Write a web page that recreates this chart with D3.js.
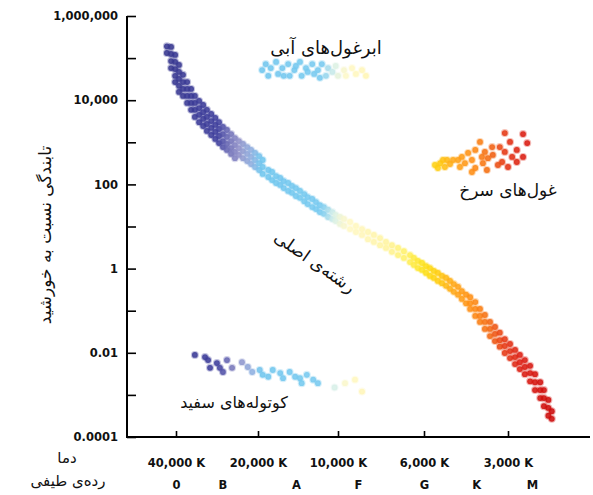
<!DOCTYPE html>
<html>
<head>
<meta charset="utf-8">
<script src="https://cdn.jsdelivr.net/npm/d3@7"></script>
<style>
  body { margin: 0; background: #fff; }
  .num { font-family: "DejaVu Sans", sans-serif; font-weight: bold; font-size: 11.5px; fill: #111; }
  .fa { font-family: "DejaVu Sans", sans-serif; fill: #111; }
</style>
</head>
<body>
<div id="chart"></div>
<script>
// Luminosity axis (relative to the Sun)
const lumTicks = [1e6, 1e4, 100, 1, 0.01, 0.0001];
const lumTickLabels = ["1,000,000", "10,000", "100", "1", "0.01", "0.0001"];
const lumMinorTicks = [1e5, 1e3, 10, 0.1, 0.001];

// Temperature axis
const tempTicks = [40000, 20000, 10000, 6000, 3000];
const tempTickLabels = ["40,000 K", "20,000 K", "10,000 K", "6,000 K", "3,000 K"];

// Spectral classes
const spectralClasses = ["0", "B", "A", "F", "G", "K", "M"];
const spectralTemps = [40000, 27000, 14400, 8880, 6000, 3900, 2460];

// Stars: [temperature K, luminosity]
const mainSequence = [
  [43200,1.9e5],[43200,1.32e5],
  [41700,1.84e5],[41700,1.25e5],[41700,8.5e4],[41700,5.8e4],
  [40300,1.19e5],[40300,8.1e4],[40300,5.5e4],[40300,3.8e4],[40300,2.7e4],
  [39000,6.9e4],[39000,4.7e4],[39000,3.2e4],[39000,2.2e4],[39000,1.57e4],
  [37700,4.0e4],[37700,2.7e4],[37700,1.85e4],[37700,1.26e4],
  [36400,2.7e4],[36400,1.85e4],[36400,1.26e4],[36400,8.6e3],
  [35200,1.85e4],[35200,1.26e4],[35200,8.6e3],[35200,5.9e3],
  [34100,1.26e4],[34100,8.6e3],[34100,5.9e3],[34100,4.0e3],
  [32900,9.6e3],[32900,6.5e3],[32900,4.5e3],[32900,3.0e3],
  [31800,7.7e3],[31800,5.2e3],[31800,3.6e3],[31800,2.44e3],
  [30800,5.9e3],[30800,4.0e3],[30800,2.72e3],[30800,1.86e3],
  [29700,4.7e3],[29700,3.2e3],[29700,2.19e3],[29700,1.49e3],
  [28700,3.8e3],[28700,2.58e3],[28700,1.76e3],[28700,1.20e3],
  [27800,3.0e3],[27800,2.07e3],[27800,1.41e3],[27800,960],
  [26900,2.31e3],[26900,1.57e3],[26900,1.07e3],[26900,770],
  [26000,1.96e3],[26000,1.34e3],[26000,910],[26000,660],
  [25100,1.57e3],[25100,1.07e3],[25100,730],[25100,530],
  [24300,1.26e3],[24300,860],[24300,590],[24300,420],
  [23500,1.07e3],[23500,730],[23500,500],
  [22700,910],[22700,620],[22700,420],
  [21900,770],[21900,530],[21900,360],
  [21200,660],[21200,450],[21200,305],
  [20500,560],[20500,380],[20500,259],
  [19800,470],[19800,320],[19800,220],
  [19200,380],[19200,259],[19200,177],
  [18300,220],[18300,150],
  [17700,197],[17700,127],
  [17100,158],[17100,108],
  [16500,142],[16500,97],
  [16000,120],[16000,82],
  [15400,108],[15400,70],
  [14900,92],[14900,63],
  [14400,82],[14400,53],
  [13900,70],[13900,48],
  [13400,59],[13400,40],
  [13000,50],[13000,34],
  [12500,45],[12500,29],
  [12100,38],[12100,26],
  [11700,32],[11700,22],
  [11300,29],[11300,20],
  [10900,25],[10900,16.8],
  [10500,22],[10500,15.1],
  [10200,18.8],[10200,13.5],
  [9880,16.8],[9880,11.5],
  [9650,15.1],[9650,10.3],
  [9310,12.8],[9310,8.7],
  [8990,10.3],[8990,7.4],
  [8670,8.7],[8670,6.3],
  [8370,7.4],[8370,5.0],
  [8080,6.3],[8080,4.3],
  [7790,5.3],[7790,3.6],
  [7520,4.3],[7520,3.1],
  [7260,3.6],[7260,2.5],
  [7000,3.1],[7000,2.1],
  [6760,2.6],[6760,1.79],
  [6520,2.1],[6520,1.43],
  [6370,1.79],[6370,1.22],
  [6220,1.52],[6220,1.03],
  [6070,1.36],[6070,0.93],
  [5900,1.15],[5900,0.79],
  [5710,1.03],[5710,0.67],
  [5530,0.88],[5530,0.60],
  [5350,0.79],[5350,0.51],
  [5170,0.67],[5170,0.45],
  [5000,0.60],[5000,0.39],
  [4840,0.51],[4840,0.33],
  [4690,0.43],[4690,0.28],
  [4530,0.37],[4530,0.24],
  [4390,0.29],[4390,0.19],
  [4240,0.24],[4240,0.15],
  [4100,0.21],[4100,0.15],[4100,0.11],
  [3930,0.16],[3930,0.11],[3930,0.075],
  [3780,0.11],[3780,0.075],[3780,0.054],
  [3630,0.079],[3630,0.054],[3630,0.037],
  [3480,0.054],[3480,0.037],[3480,0.025],
  [3340,0.041],[3340,0.028],[3340,0.019],
  [3210,0.030],[3210,0.020],[3210,0.014],
  [3080,0.021],[3080,0.0145],[3080,0.0099],
  [2950,0.0162],[2950,0.0110],[2950,0.0075],
  [2830,0.0117],[2830,0.0079],[2830,0.0054],
  [2720,0.0089],[2720,0.0060],[2720,0.0041],
  [2610,0.0067],[2610,0.0046],[2610,0.0031],
  [2500,0.0049],[2500,0.0033],[2500,0.0021],
  [2400,0.0031],[2400,0.0020],[2400,0.0013],
  [2300,0.0020],[2300,0.0013],[2300,0.00084],
  [2230,0.0013],[2230,0.00084],[2230,0.00054],
  [2150,0.00076],[2150,0.00049],[2150,0.00032],
  [2090,0.00041],[2090,0.00027]
];

const blueSupergiants = [
  [19300,5.2e4],[18700,7.2e4],[18300,3.8e4],[17900,5.8e4],[17100,8.1e4],[16800,4.2e4],
  [16200,5.8e4],[16000,3.8e4],[15400,7.2e4],[15200,3.8e4],[14600,5.2e4],[14400,6.5e4],
  [13900,8.1e4],[13700,3.8e4],[13200,5.8e4],[13000,4.7e4],[12500,7.2e4],[12300,4.2e4],
  [11900,5.2e4],[11700,3.4e4],[11500,7.2e4],[11100,3.8e4],[10900,5.8e4],[10500,4.7e4],
  [10200,6.5e4],[10000,3.8e4],
  [9650,5.2e4],[9540,3.8e4],[9200,5.8e4],[8990,4.2e4],[8670,5.2e4],[8470,3.8e4]
];

const redGiants = [
  [5480,289],[5350,245],[5250,320],[5130,380],[5050,259],[4960,380],[4840,305],[4720,380],
  [4530,380],[4460,259],[4390,450],[4280,320],[4170,560],[4040,380],[4040,197],[3930,660],
  [3930,245],[3780,1020],[3720,450],[3690,320],[3630,590],[3570,220],[3540,420],[3420,770],
  [3400,500],
  [3080,1660],[2650,1570],[3210,770],[2950,1020],[2560,960],[3080,590],[2790,660],
  [2900,450],[2650,450],[3150,340],[2790,340],[3000,259],[3260,289]
];

const whiteDwarfs = [
  [34100,0.0089],[31300,0.0079],[30500,0.0067],[28300,0.0057],[26000,0.0067],
  [30000,0.0044],[27600,0.0044],[26900,0.0035],[24900,0.0044],
  [22900,0.0060],[21800,0.0046],[21000,0.0035],[19700,0.0039],[19200,0.0030],
  [18300,0.0027],[17600,0.0039],[16500,0.0033],[16100,0.0025],[15200,0.0035],
  [14500,0.0027],[13900,0.0025],[13700,0.0019],[13100,0.0030],[12400,0.0023],
  [11900,0.0019],
  [10300,0.0015],[9590,0.0019],[9040,0.0023],[8670,0.0012]
];

// star colour by temperature
const colorTemps = [43000, 28000, 26000, 23500, 21000, 19500, 11500, 10300, 9500, 7500, 6600, 6000, 5300, 4700, 4000, 3500, 3100, 2700, 2100];
const colorStops = ["#36368f", "#3d3d9c", "#6565b2", "#9090c8", "#8fb0e0", "#70c6ee", "#78caf0", "#d8f0e8",
  "#fff8c8", "#fff4a0", "#fff060", "#fde21a", "#ffcc10", "#ffa818", "#ff8c14", "#f36a12", "#e63a14", "#dc1e12", "#cc0a0a"];

const width = 593, height = 495;
const plotLeft = 127, plotTop = 16, plotBottom = 437, plotRight = 590;

const svg = d3.select("#chart").append("svg")
    .attr("width", width)
    .attr("height", height);

// temperature axis is not uniform; the tick positions are roughly evenly spaced
const x = d3.scaleLog()
    .domain(tempTicks)
    .range([176, 258, 338, 424, 508]);

const y = d3.scaleLog()
    .domain([1e-4, 1e6])
    .range([plotBottom, plotTop]);

const color = d3.scaleLog()
    .domain(colorTemps)
    .range(colorStops)
    .clamp(true);

// stars (soft halo to mimic the printed dots)
const stars = [].concat(mainSequence, blueSupergiants, redGiants, whiteDwarfs);
svg.append("g")
  .selectAll("circle")
  .data(stars)
  .join("circle")
    .attr("cx", d => x(d[0]))
    .attr("cy", d => y(d[1]))
    .attr("r", 2.9)
    .attr("fill", d => color(d[0]))
    .attr("fill-opacity", 0.88)
    .attr("stroke", d => color(d[0]))
    .attr("stroke-opacity", 0.3)
    .attr("stroke-width", 2.2);

// y axis
const yAxis = svg.append("g")
    .attr("transform", `translate(${plotLeft},0)`)
    .call(d3.axisLeft(y)
      .tickValues(lumTicks)
      .tickFormat((d, i) => lumTickLabels[i])
      .tickSize(-9)
      .tickSizeOuter(0)
      .tickPadding(9));
yAxis.selectAll("text").attr("class", "num");

svg.append("g")
    .attr("transform", `translate(${plotLeft},0)`)
    .call(d3.axisLeft(y)
      .tickValues(lumMinorTicks)
      .tickFormat("")
      .tickSize(-9)
      .tickSizeOuter(0));

// x axis: temperature
const xAxis = svg.append("g")
    .attr("transform", `translate(0,${plotBottom})`)
    .call(d3.axisBottom(x)
      .tickValues(tempTicks)
      .tickFormat((d, i) => tempTickLabels[i])
      .tickSize(-6)
      .tickSizeOuter(0)
      .tickPadding(22));
xAxis.selectAll("text").attr("class", "num");

// x axis: spectral class
const sAxis = svg.append("g")
    .attr("transform", `translate(0,${plotBottom})`)
    .call(d3.axisBottom(x)
      .tickValues(spectralTemps)
      .tickFormat((d, i) => spectralClasses[i])
      .tickSize(0)
      .tickPadding(44));
sAxis.selectAll("text").attr("class", "num");
sAxis.selectAll("line").remove();

svg.selectAll(".domain").remove();
svg.selectAll(".tick line").attr("stroke", "#000").attr("stroke-width", 1.6);

// frame
svg.append("path")
    .attr("d", `M${plotLeft},${plotTop}V${plotBottom}H${plotRight}`)
    .attr("fill", "none")
    .attr("stroke", "#000")
    .attr("stroke-width", 2);

// annotations
svg.append("text").attr("class", "fa")
    .attr("x", 326).attr("y", 54)
    .attr("text-anchor", "middle")
    .style("font-size", "18px")
    .text("ابرغول‌های آبی");

svg.append("text").attr("class", "fa")
    .attr("x", 508).attr("y", 196)
    .attr("text-anchor", "middle")
    .style("font-size", "17px")
    .text("غول‌های سرخ");

svg.append("text").attr("class", "fa")
    .attr("x", 234).attr("y", 408)
    .attr("text-anchor", "middle")
    .style("font-size", "16px")
    .text("کوتوله‌های سفید");

svg.append("text").attr("class", "fa")
    .attr("transform", "translate(315,262) rotate(35)")
    .attr("text-anchor", "middle")
    .attr("dy", "0.35em")
    .style("font-size", "17px")
    .text("رشته‌ی اصلی");

svg.append("text").attr("class", "fa")
    .attr("transform", "translate(45,235) rotate(-90)")
    .attr("text-anchor", "middle")
    .attr("dy", "0.35em")
    .style("font-size", "17px")
    .text("تابندگی نسبت به خورشید");

svg.append("text").attr("class", "fa")
    .attr("x", 67).attr("y", 463)
    .attr("text-anchor", "middle")
    .style("font-size", "15px")
    .text("دما");

svg.append("text").attr("class", "fa")
    .attr("x", 68).attr("y", 486)
    .attr("text-anchor", "middle")
    .style("font-size", "15px")
    .text("رده‌ی طیفی");
</script>
</body>
</html>
